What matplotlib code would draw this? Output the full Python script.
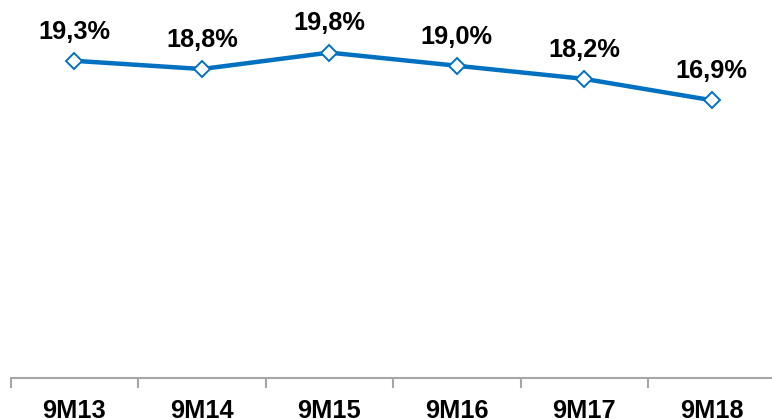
import matplotlib.pyplot as plt

plt.rcParams['font.family'] = ['Liberation Sans', 'DejaVu Sans']

periods = ['9M13', '9M14', '9M15', '9M16', '9M17', '9M18']
values = [19.3, 18.8, 19.8, 19.0, 18.2, 16.9]
labels = ['19,3%', '18,8%', '19,8%', '19,0%', '18,2%', '16,9%']

blue = '#0070C0'
grey = '#A6A6A6'

fig = plt.figure(figsize=(7.72, 4.19), dpi=100)
ax = fig.add_axes([10.5 / 772, 41 / 419, 1 - 10.5 / 772, 378 / 419])

x = list(range(len(periods)))
ax.plot(x, values, color=blue, lw=3.2, marker='D', markersize=8,
        markerfacecolor='white', markeredgecolor=blue, markeredgewidth=1.4,
        zorder=3, clip_on=False)

for xi, v, lab in zip(x, values, labels):
    ax.annotate(lab, (xi, v), xytext=(0, 21), textcoords='offset points',
                ha='center', va='center', fontsize=18.3, fontweight='bold',
                color='black')

ax.set_xlim(-0.5, 5.5 - 3.5 / 127.5)
ax.set_ylim(0, 23.0)

for s in ['top', 'right', 'left']:
    ax.spines[s].set_visible(False)
ax.spines['bottom'].set_color(grey)
ax.spines['bottom'].set_linewidth(1.5)

ax.set_yticks([])
ax.set_xticks([i - 0.5 for i in range(len(periods))], minor=False)
ax.set_xticklabels([])
ax.tick_params(axis='x', which='major', length=7, width=1.5, color=grey, direction='out')
ax.set_xticks(x, minor=True)
ax.set_xticklabels(periods, minor=True, fontsize=18.3, fontweight='bold')
ax.tick_params(axis='x', which='minor', length=0, pad=15)

fig.savefig('out.png', dpi=100, facecolor='white')
